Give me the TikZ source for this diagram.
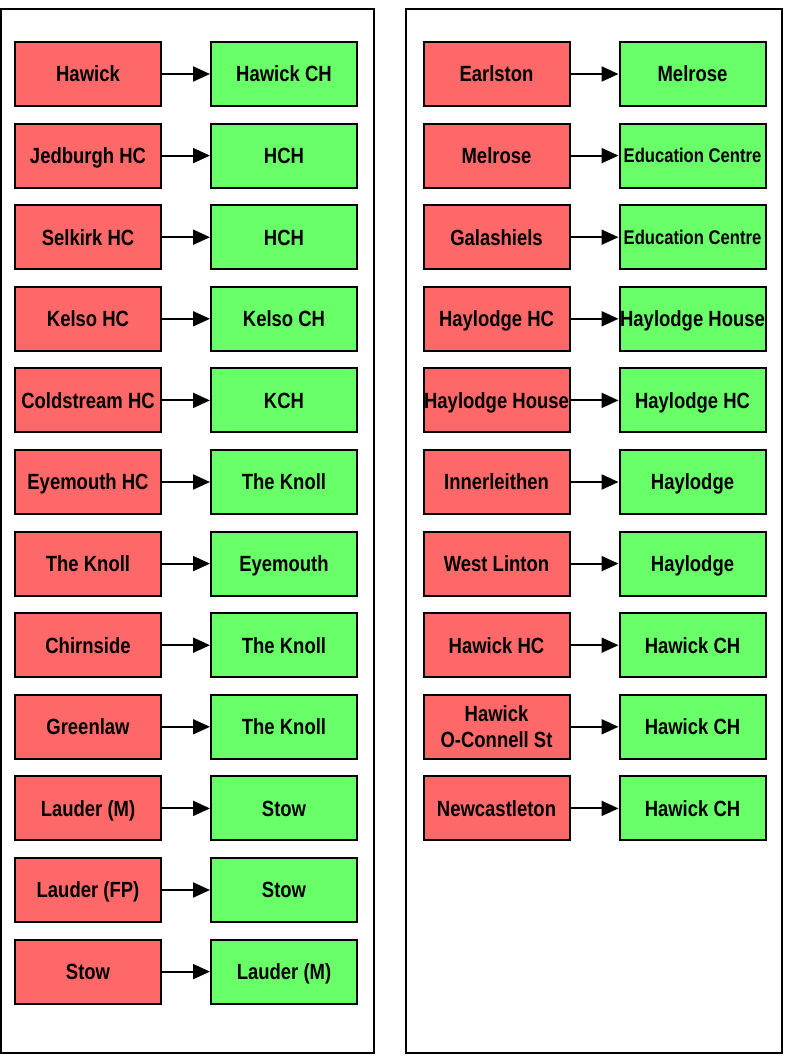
\documentclass[tikz,border=0pt]{standalone}
\usepackage{fontspec}
\setmainfont{Liberation Sans}[FakeStretch=0.84]
\usetikzlibrary{arrows.meta}
\definecolor{srcred}{RGB}{255,104,104}
\definecolor{dstgreen}{RGB}{104,255,104}
\tikzset{
  panel/.style={draw=black, line width=2pt},
  site/.style={draw=black, line width=2pt, minimum width=146pt, minimum height=64pt,
    inner sep=0pt, align=center, font=\bfseries\fontsize{22}{26}\selectfont,
    text height=15.8pt, text depth=0pt},
  srcbox/.style={site, fill=srcred},
  dstbox/.style={site, fill=dstgreen},
  small/.style={font=\bfseries\fontsize{19.8}{24}\selectfont, text height=14.2pt},
  flow/.style={line width=2pt, -{Triangle[length=17pt,width=15pt]}},
}
\begin{document}
\begin{tikzpicture}[x=1pt,y=-1pt]
\useasboundingbox (0,0) rectangle (787,1057);
\fill[white] (0,0) rectangle (787,1057);
% the two panels
\draw[panel] (1,9) rectangle (374,1053);
\draw[panel] (406,9) rectangle (782,1053);
% left panel: source sites and their destinations
\foreach \i/\a/\b in {0/Hawick/Hawick CH, 1/Jedburgh HC/HCH, 2/Selkirk HC/HCH, 3/Kelso HC/Kelso CH,
  4/Coldstream HC/KCH, 5/Eyemouth HC/The Knoll, 6/The Knoll/Eyemouth, 7/Chirnside/The Knoll,
  8/Greenlaw/The Knoll, 9/Lauder (M)/Stow, 10/Lauder (FP)/Stow, 11/Stow/Lauder (M)} {
  \node[srcbox] (L\i) at (88,{74+81.6*\i}) {\a};
  \node[dstbox] (R\i) at (284,{74+81.6*\i}) {\b};
  \draw[flow] (L\i) -- (R\i);
}
% right panel
\node[srcbox] (a0) at (496.5,74) {Earlston};
\node[dstbox] (b0) at (692.5,74) {Melrose};
\node[srcbox] (a1) at (496.5,155.6) {Melrose};
\node[dstbox,small] (b1) at (692.5,155.6) {Education Centre};
\node[srcbox] (a2) at (496.5,237.2) {Galashiels};
\node[dstbox,small] (b2) at (692.5,237.2) {Education Centre};
\node[srcbox] (a3) at (496.5,318.8) {Haylodge HC};
\node[dstbox] (b3) at (692.5,318.8) {Haylodge House};
\node[srcbox] (a4) at (496.5,400.4) {Haylodge House};
\node[dstbox] (b4) at (692.5,400.4) {Haylodge HC};
\node[srcbox] (a5) at (496.5,482) {Innerleithen};
\node[dstbox] (b5) at (692.5,482) {Haylodge};
\node[srcbox] (a6) at (496.5,563.6) {West Linton};
\node[dstbox] (b6) at (692.5,563.6) {Haylodge};
\node[srcbox] (a7) at (496.5,645.2) {Hawick HC};
\node[dstbox] (b7) at (692.5,645.2) {Hawick CH};
\node[srcbox, text height=, text depth=] (a8) at (496.5,726.8) {Hawick\\O-Connell St};
\node[dstbox] (b8) at (692.5,726.8) {Hawick CH};
\node[srcbox] (a9) at (496.5,808.4) {Newcastleton};
\node[dstbox] (b9) at (692.5,808.4) {Hawick CH};
\foreach \i in {0,...,9} { \draw[flow] (a\i) -- (b\i); }
\end{tikzpicture}
\end{document}
